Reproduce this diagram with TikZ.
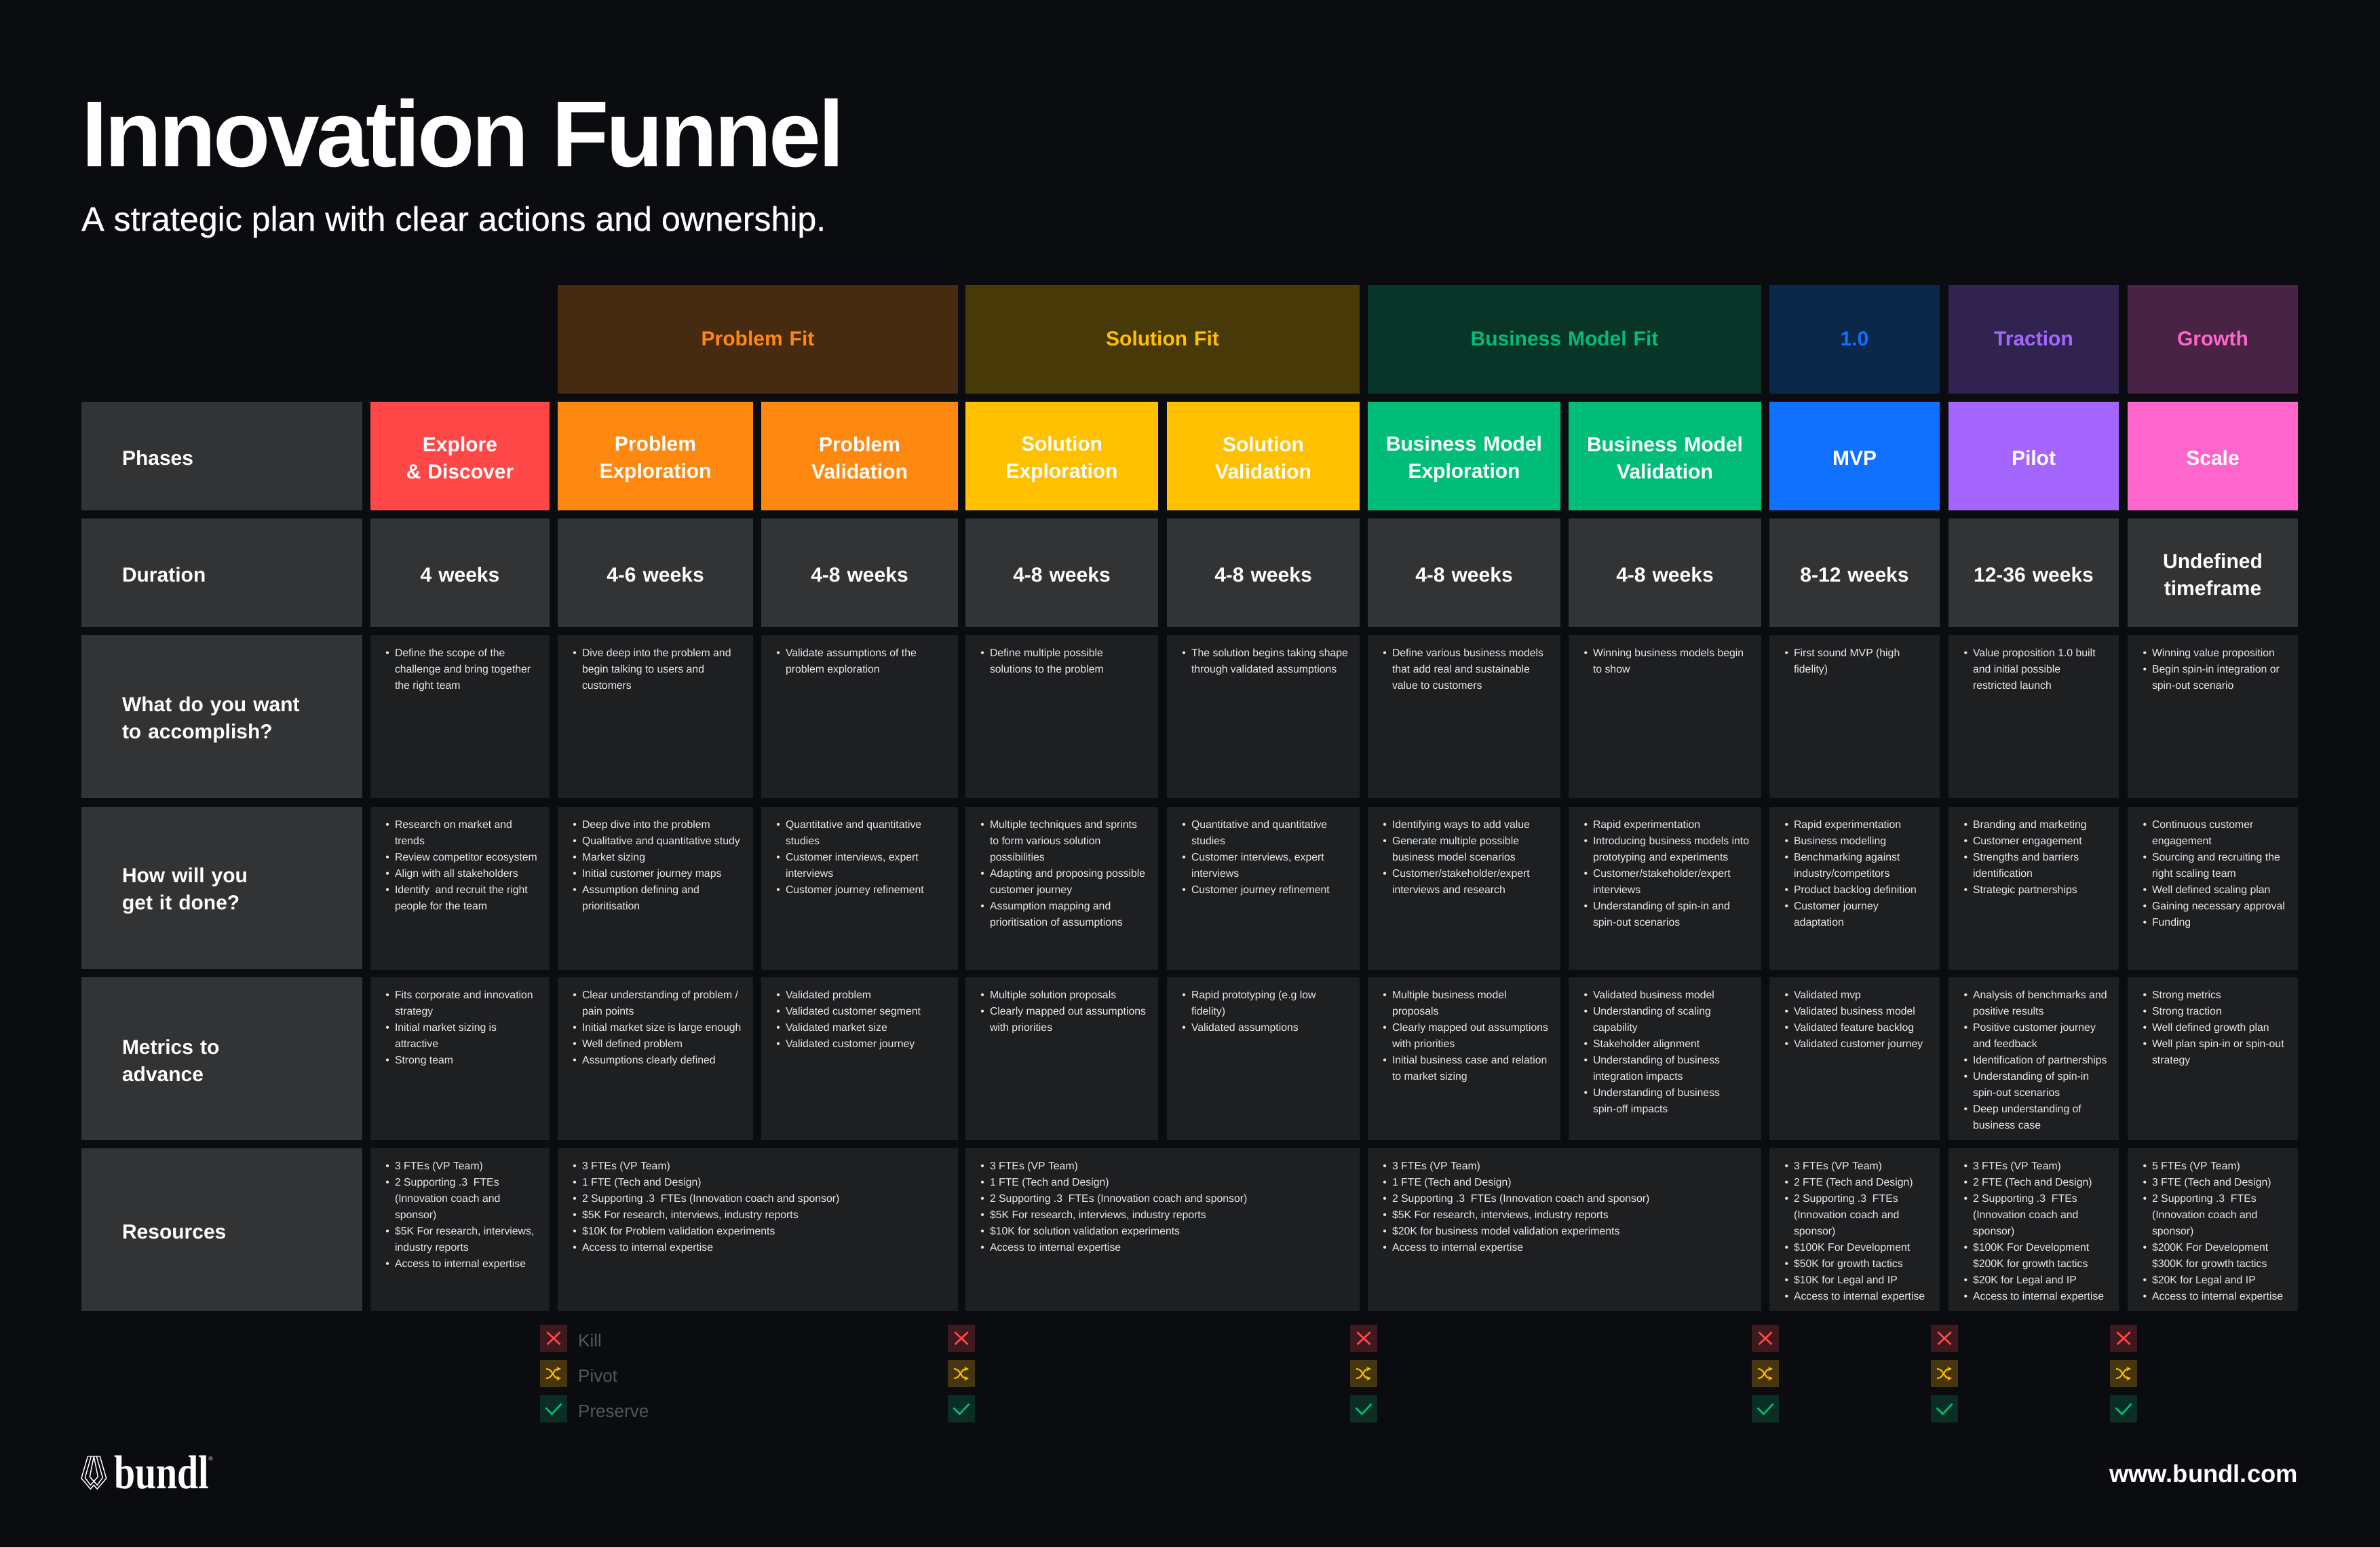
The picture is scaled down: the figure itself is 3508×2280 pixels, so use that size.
\documentclass[tikz,border=0pt]{standalone}
\usepackage{fontspec}
\usepackage{graphicx}
\setmainfont{Liberation Sans}
\newfontfamily\logofont{Liberation Serif}
\newfontfamily\titlefont[LetterSpace=-3.1]{Liberation Sans}
\newfontfamily\mediumfont[FakeBold=0.35]{Liberation Sans}
\definecolor{pagebg}{HTML}{0B0C10}
\definecolor{labelbg}{HTML}{323335}
\definecolor{bodybg}{HTML}{1E1F21}
\definecolor{bodytx}{HTML}{E8E8E9}
\definecolor{legendtx}{HTML}{54555A}
\definecolor{redc}{HTML}{FF4747}
\definecolor{orangec}{HTML}{FF8811}
\definecolor{yellowc}{HTML}{FFC000}
\definecolor{greenc}{HTML}{00BD7A}
\definecolor{bluec}{HTML}{1070FF}
\definecolor{purplec}{HTML}{A566FF}
\definecolor{pinkc}{HTML}{FF66CC}
\definecolor{orangedim}{HTML}{472B10}
\definecolor{yellowdim}{HTML}{483908}
\definecolor{greendim}{HTML}{083527}
\definecolor{bluedim}{HTML}{0B274A}
\definecolor{purpledim}{HTML}{312350}
\definecolor{pinkdim}{HTML}{482343}
\definecolor{reddim}{HTML}{3E1A1E}
\definecolor{ambdim}{HTML}{453510}
\definecolor{tealdim}{HTML}{0A2E24}
\newcommand{\bl}{\strut\makebox[0pt][r]{\textbullet\hspace{8pt}}}
\newcommand{\lowstrut}{\rule[-5pt]{0pt}{36pt}}
\newcommand{\fitstrut}{\rule[-9pt]{0pt}{36pt}}
\tikzset{
  wd/.style={minimum width=#1pt, text width=#1pt},
  cellbox/.style={rectangle, anchor=north west, inner sep=0pt, outer sep=0pt, align=center},
  basebox/.style={cellbox, minimum height=160pt, font=\fontsize{30}{40}\selectfont\bfseries},
  headbox/.style={basebox, execute at begin node=\fitstrut, execute at end node=\fitstrut},
  phasebox/.style={basebox, text=white, execute at begin node=\lowstrut, execute at end node=\lowstrut},
  durbox/.style={phasebox, fill=labelbg},
  rowlabel/.style={cellbox, fill=labelbg, text=white, minimum width=414pt, inner xsep=60pt, text width=294pt, align=left, font=\fontsize{30}{40}\selectfont\bfseries, execute at begin node=\lowstrut, execute at end node=\lowstrut},
  bodybox/.style={cellbox, fill=bodybg, minimum height=240pt},
  bodytext/.style={anchor=north west, inner sep=0pt, outer sep=0pt, align=left, text=bodytx, font=\fontsize{15.8}{24}\selectfont},
  legendtext/.style={anchor=base west, inner sep=0pt, text=legendtx, font=\fontsize{26}{30}\selectfont},
  killmark/.pic={
    \fill[reddim] (0,0) rectangle (40,40);
    \draw[redc, line width=2.6pt] (10.5,11) -- (29.5,29) (10.5,29) -- (29.5,11);
  },
  pivotmark/.pic={
    \fill[ambdim] (0,0) rectangle (40,40);
    \draw[yellowc, line width=2pt, -stealth] (9,13) .. controls (19,13) and (19,27) .. (31,27);
    \draw[yellowc, line width=2pt, -stealth] (9,27) .. controls (19,27) and (19,13) .. (31,13);
  },
  keepmark/.pic={
    \fill[tealdim] (0,0) rectangle (40,40);
    \draw[greenc, line width=2.6pt] (8.5,18.5) -- (17.5,27.5) -- (31.5,12.5);
  }
}
\begin{document}
\begin{tikzpicture}[x=1pt, y=-1pt]
  \useasboundingbox (0,0) rectangle (3508,2280);
  \fill[pagebg] (0,0) rectangle (3508,2280);
  \node[anchor=base west, inner sep=0pt, text=white, font=\titlefont\fontsize{138}{140}\selectfont\bfseries] (title) at (120,245) {Innovation Funnel};
  \node[anchor=base west, inner sep=0pt, text=white, font=\mediumfont\fontsize{50.1}{52}\selectfont] (subtitle) at (120,340) {A strategic plan with clear actions and ownership.};
  \node[headbox, wd=590, fill=orangedim, text=orangec] (fitproblem) at (822,420) {Problem Fit};
  \node[headbox, wd=581, fill=yellowdim, text=yellowc] (fitsolution) at (1423,420) {Solution Fit};
  \node[headbox, wd=580, fill=greendim, text=greenc] (fitmodel) at (2016,420) {Business Model Fit};
  \node[headbox, wd=251, fill=bluedim, text=bluec] (fitone) at (2608,420) {1.0};
  \node[headbox, wd=251, fill=purpledim, text=purplec] (fittraction) at (2872,420) {Traction};
  \node[headbox, wd=251, fill=pinkdim, text=pinkc] (fitgrowth) at (3136,420) {Growth};
  \node[rowlabel, minimum height=160pt] (phases) at (120,592) {Phases};
  \node[phasebox, wd=264, fill=redc] (phexplore) at (546,592) {Explore\\\& Discover};
  \node[phasebox, wd=288, fill=orangec] (phprobexp) at (822,592) {Problem\\Exploration};
  \node[phasebox, wd=290, fill=orangec] (phprobval) at (1122,592) {Problem\\Validation};
  \node[phasebox, wd=284, fill=yellowc] (phsolexp) at (1423,592) {Solution\\Exploration};
  \node[phasebox, wd=284, fill=yellowc] (phsolval) at (1720,592) {Solution\\Validation};
  \node[phasebox, wd=284, fill=greenc] (phbmexp) at (2016,592) {Business Model\\Exploration};
  \node[phasebox, wd=284, fill=greenc] (phbmval) at (2312,592) {Business Model\\Validation};
  \node[phasebox, wd=251, fill=bluec] (phmvp) at (2608,592) {MVP};
  \node[phasebox, wd=251, fill=purplec] (phpilot) at (2872,592) {Pilot};
  \node[phasebox, wd=251, fill=pinkc] (phscale) at (3136,592) {Scale};
  \node[rowlabel, minimum height=160pt] (duration) at (120,764) {Duration};
  \node[durbox, wd=264] (duexplore) at (546,764) {4 weeks};
  \node[durbox, wd=288] (duprobexp) at (822,764) {4-6 weeks};
  \node[durbox, wd=290] (duprobval) at (1122,764) {4-8 weeks};
  \node[durbox, wd=284] (dusolexp) at (1423,764) {4-8 weeks};
  \node[durbox, wd=284] (dusolval) at (1720,764) {4-8 weeks};
  \node[durbox, wd=284] (dubmexp) at (2016,764) {4-8 weeks};
  \node[durbox, wd=284] (dubmval) at (2312,764) {4-8 weeks};
  \node[durbox, wd=251] (dumvp) at (2608,764) {8-12 weeks};
  \node[durbox, wd=251] (dupilot) at (2872,764) {12-36 weeks};
  \node[durbox, wd=251] (duscale) at (3136,764) {Undefined\\timeframe};
  \node[rowlabel, minimum height=240pt] (goal) at (120,936) {What do you want\\to accomplish?};
  \node[bodybox, wd=264] (goexplore) at (546,936) {};
  \node[bodybox, wd=288] (goprobexp) at (822,936) {};
  \node[bodybox, wd=290] (goprobval) at (1122,936) {};
  \node[bodybox, wd=284] (gosolexp) at (1423,936) {};
  \node[bodybox, wd=284] (gosolval) at (1720,936) {};
  \node[bodybox, wd=284] (gobmexp) at (2016,936) {};
  \node[bodybox, wd=284] (gobmval) at (2312,936) {};
  \node[bodybox, wd=251] (gomvp) at (2608,936) {};
  \node[bodybox, wd=251] (gopilot) at (2872,936) {};
  \node[bodybox, wd=251] (goscale) at (3136,936) {};
  \node[bodytext] (gt1) at (582,951) {\bl Define the scope of the\\challenge and bring together\\the right team};
  \node[bodytext] (gt2) at (858,951) {\bl Dive deep into the problem and\\begin talking to users and\\customers};
  \node[bodytext] (gt3) at (1158,951) {\bl Validate assumptions of the\\problem exploration};
  \node[bodytext] (gt4) at (1459,951) {\bl Define multiple possible\\solutions to the problem};
  \node[bodytext] (gt5) at (1756,951) {\bl The solution begins taking shape\\through validated assumptions};
  \node[bodytext] (gt6) at (2052,951) {\bl Define various business models\\that add real and sustainable\\value to customers};
  \node[bodytext] (gt7) at (2348,951) {\bl Winning business models begin\\to show};
  \node[bodytext] (gt8) at (2644,951) {\bl First sound MVP (high\\fidelity)};
  \node[bodytext] (gt9) at (2908,951) {\bl Value proposition 1.0 built\\and initial possible\\restricted launch};
  \node[bodytext] (gt10) at (3172,951) {\bl Winning value proposition\\\bl Begin spin-in integration or\\spin-out scenario};
  \node[rowlabel, minimum height=239pt] (how) at (120,1189) {How will you\\get it done?};
  \node[bodybox, wd=264] (hoexplore) at (546,1189) {};
  \node[bodybox, wd=288] (hoprobexp) at (822,1189) {};
  \node[bodybox, wd=290] (hoprobval) at (1122,1189) {};
  \node[bodybox, wd=284] (hosolexp) at (1423,1189) {};
  \node[bodybox, wd=284] (hosolval) at (1720,1189) {};
  \node[bodybox, wd=284] (hobmexp) at (2016,1189) {};
  \node[bodybox, wd=284] (hobmval) at (2312,1189) {};
  \node[bodybox, wd=251] (homvp) at (2608,1189) {};
  \node[bodybox, wd=251] (hopilot) at (2872,1189) {};
  \node[bodybox, wd=251] (hoscale) at (3136,1189) {};
  \node[bodytext] (ht1) at (582,1204) {\bl Research on market and\\trends\\\bl Review competitor ecosystem\\\bl Align with all stakeholders\\\bl Identify\ \ and recruit the right\\people for the team};
  \node[bodytext] (ht2) at (858,1204) {\bl Deep dive into the problem\\\bl Qualitative and quantitative study\\\bl Market sizing\\\bl Initial customer journey maps\\\bl Assumption defining and\\prioritisation};
  \node[bodytext] (ht3) at (1158,1204) {\bl Quantitative and quantitative\\studies\\\bl Customer interviews, expert\\interviews\\\bl Customer journey refinement};
  \node[bodytext] (ht4) at (1459,1204) {\bl Multiple techniques and sprints\\to form various solution\\possibilities\\\bl Adapting and proposing possible\\customer journey\\\bl Assumption mapping and\\prioritisation of assumptions};
  \node[bodytext] (ht5) at (1756,1204) {\bl Quantitative and quantitative\\studies\\\bl Customer interviews, expert\\interviews\\\bl Customer journey refinement};
  \node[bodytext] (ht6) at (2052,1204) {\bl Identifying ways to add value\\\bl Generate multiple possible\\business model scenarios\\\bl Customer/stakeholder/expert\\interviews and research};
  \node[bodytext] (ht7) at (2348,1204) {\bl Rapid experimentation\\\bl Introducing business models into\\prototyping and experiments\\\bl Customer/stakeholder/expert\\interviews\\\bl Understanding of spin-in and\\spin-out scenarios};
  \node[bodytext] (ht8) at (2644,1204) {\bl Rapid experimentation\\\bl Business modelling\\\bl Benchmarking against\\industry/competitors\\\bl Product backlog definition\\\bl Customer journey\\adaptation};
  \node[bodytext] (ht9) at (2908,1204) {\bl Branding and marketing\\\bl Customer engagement\\\bl Strengths and barriers\\identification\\\bl Strategic partnerships};
  \node[bodytext] (ht10) at (3172,1204) {\bl Continuous customer\\engagement\\\bl Sourcing and recruiting the\\right scaling team\\\bl Well defined scaling plan\\\bl Gaining necessary approval\\\bl Funding};
  \node[rowlabel, minimum height=240pt] (metrics) at (120,1440) {Metrics to\\advance};
  \node[bodybox, wd=264] (meexplore) at (546,1440) {};
  \node[bodybox, wd=288] (meprobexp) at (822,1440) {};
  \node[bodybox, wd=290] (meprobval) at (1122,1440) {};
  \node[bodybox, wd=284] (mesolexp) at (1423,1440) {};
  \node[bodybox, wd=284] (mesolval) at (1720,1440) {};
  \node[bodybox, wd=284] (mebmexp) at (2016,1440) {};
  \node[bodybox, wd=284] (mebmval) at (2312,1440) {};
  \node[bodybox, wd=251] (memvp) at (2608,1440) {};
  \node[bodybox, wd=251] (mepilot) at (2872,1440) {};
  \node[bodybox, wd=251] (mescale) at (3136,1440) {};
  \node[bodytext] (mt1) at (582,1455) {\bl Fits corporate and innovation\\strategy\\\bl Initial market sizing is\\attractive\\\bl Strong team};
  \node[bodytext] (mt2) at (858,1455) {\bl Clear understanding of problem /\\pain points\\\bl Initial market size is large enough\\\bl Well defined problem\\\bl Assumptions clearly defined};
  \node[bodytext] (mt3) at (1158,1455) {\bl Validated problem\\\bl Validated customer segment\\\bl Validated market size\\\bl Validated customer journey};
  \node[bodytext] (mt4) at (1459,1455) {\bl Multiple solution proposals\\\bl Clearly mapped out assumptions\\with priorities};
  \node[bodytext] (mt5) at (1756,1455) {\bl Rapid prototyping (e.g low\\fidelity)\\\bl Validated assumptions};
  \node[bodytext] (mt6) at (2052,1455) {\bl Multiple business model\\proposals\\\bl Clearly mapped out assumptions\\with priorities\\\bl Initial business case and relation\\to market sizing};
  \node[bodytext] (mt7) at (2348,1455) {\bl Validated business model\\\bl Understanding of scaling\\capability\\\bl Stakeholder alignment\\\bl Understanding of business\\integration impacts\\\bl Understanding of business\\spin-off impacts};
  \node[bodytext] (mt8) at (2644,1455) {\bl Validated mvp\\\bl Validated business model\\\bl Validated feature backlog\\\bl Validated customer journey};
  \node[bodytext] (mt9) at (2908,1455) {\bl Analysis of benchmarks and\\positive results\\\bl Positive customer journey\\and feedback\\\bl Identification of partnerships\\\bl Understanding of spin-in\\spin-out scenarios\\\bl Deep understanding of\\business case};
  \node[bodytext] (mt10) at (3172,1455) {\bl Strong metrics\\\bl Strong traction\\\bl Well defined growth plan\\\bl Well plan spin-in or spin-out\\strategy};
  \node[rowlabel, minimum height=240pt] (resources) at (120,1692) {Resources};
  \node[bodybox, wd=264] (reexplore) at (546,1692) {};
  \node[bodybox, wd=590] (reproblem) at (822,1692) {};
  \node[bodybox, wd=581] (resolution) at (1423,1692) {};
  \node[bodybox, wd=580] (remodel) at (2016,1692) {};
  \node[bodybox, wd=251] (remvp) at (2608,1692) {};
  \node[bodybox, wd=251] (repilot) at (2872,1692) {};
  \node[bodybox, wd=251] (rescale) at (3136,1692) {};
  \node[bodytext] (rt1) at (582,1707) {\bl 3 FTEs (VP Team)\\\bl 2 Supporting .3\ \ FTEs\\(Innovation coach and\\sponsor)\\\bl \$5K For research, interviews,\\industry reports\\\bl Access to internal expertise};
  \node[bodytext] (rt2) at (858,1707) {\bl 3 FTEs (VP Team)\\\bl 1 FTE (Tech and Design)\\\bl 2 Supporting .3\ \ FTEs (Innovation coach and sponsor)\\\bl \$5K For research, interviews, industry reports\\\bl \$10K for Problem validation experiments\\\bl Access to internal expertise};
  \node[bodytext] (rt3) at (1459,1707) {\bl 3 FTEs (VP Team)\\\bl 1 FTE (Tech and Design)\\\bl 2 Supporting .3\ \ FTEs (Innovation coach and sponsor)\\\bl \$5K For research, interviews, industry reports\\\bl \$10K for solution validation experiments\\\bl Access to internal expertise};
  \node[bodytext] (rt4) at (2052,1707) {\bl 3 FTEs (VP Team)\\\bl 1 FTE (Tech and Design)\\\bl 2 Supporting .3\ \ FTEs (Innovation coach and sponsor)\\\bl \$5K For research, interviews, industry reports\\\bl \$20K for business model validation experiments\\\bl Access to internal expertise};
  \node[bodytext] (rt5) at (2644,1707) {\bl 3 FTEs (VP Team)\\\bl 2 FTE (Tech and Design)\\\bl 2 Supporting .3\ \ FTEs\\(Innovation coach and\\sponsor)\\\bl \$100K For Development\\\bl \$50K for growth tactics\\\bl \$10K for Legal and IP\\\bl Access to internal expertise};
  \node[bodytext] (rt6) at (2908,1707) {\bl 3 FTEs (VP Team)\\\bl 2 FTE (Tech and Design)\\\bl 2 Supporting .3\ \ FTEs\\(Innovation coach and\\sponsor)\\\bl \$100K For Development\\\$200K for growth tactics\\\bl \$20K for Legal and IP\\\bl Access to internal expertise};
  \node[bodytext] (rt7) at (3172,1707) {\bl 5 FTEs (VP Team)\\\bl 3 FTE (Tech and Design)\\\bl 2 Supporting .3\ \ FTEs\\(Innovation coach and\\sponsor)\\\bl \$200K For Development\\\$300K for growth tactics\\\bl \$20K for Legal and IP\\\bl Access to internal expertise};
  \pic at (796,1952) {killmark};
  \pic at (796,2004) {pivotmark};
  \pic at (796,2056) {keepmark};
  \pic at (1397,1952) {killmark};
  \pic at (1397,2004) {pivotmark};
  \pic at (1397,2056) {keepmark};
  \pic at (1990,1952) {killmark};
  \pic at (1990,2004) {pivotmark};
  \pic at (1990,2056) {keepmark};
  \pic at (2582,1952) {killmark};
  \pic at (2582,2004) {pivotmark};
  \pic at (2582,2056) {keepmark};
  \pic at (2846,1952) {killmark};
  \pic at (2846,2004) {pivotmark};
  \pic at (2846,2056) {keepmark};
  \pic at (3110,1952) {killmark};
  \pic at (3110,2004) {pivotmark};
  \pic at (3110,2056) {keepmark};
  \node[legendtext] (kill) at (852,1984) {Kill};
  \node[legendtext] (pivot) at (852,2036) {Pivot};
  \node[legendtext] (preserve) at (852,2088) {Preserve};
  \begin{scope}[shift={(100,2120)}, x=0.3333pt, y=-0.3333pt, white, line width=1.4pt, line join=miter]
    \draw (88,78) -- (142,78) -- (170,175) -- (130,222) -- (115,205) -- (100,222) -- (60,175) -- cycle;
    \draw (103,78) -- (76,172) -- (100,205) -- (115,188) -- (130,205) -- (154,172) -- (127,78);
    \draw (115,78) -- (97,168) -- (115,188) -- (133,168) -- (115,78);
  \end{scope}
  \node[anchor=base west, inner sep=0pt, text=white, font=\logofont\bfseries\fontsize{70}{70}\selectfont] (logo) at (168,2193) {\scalebox{0.8}[1]{bundl}};
  \node[anchor=base west, inner sep=0pt, text=white, font=\logofont\fontsize{9}{9}\selectfont] (logomark) at (307,2152) {®};
  \node[anchor=base east, inner sep=0pt, text=white, font=\fontsize{36.4}{40}\selectfont\bfseries] (website) at (3387,2184) {www.bundl.com};
\end{tikzpicture}
\end{document}
